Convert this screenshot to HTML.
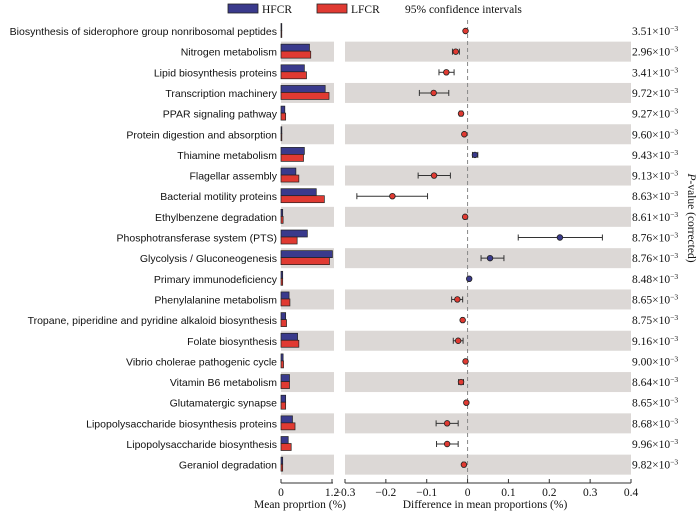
<!DOCTYPE html>
<html><head><meta charset="utf-8"><style>
html,body{margin:0;padding:0;background:#fff;}
svg{display:block;}
.lab{font-family:"Liberation Sans",sans-serif;font-size:10.5px;fill:#111;}
.ser{font-family:"Liberation Serif",serif;font-size:11.5px;fill:#111;}
</style></head><body>
<svg id="chart" width="700" height="515" viewBox="0 0 700 515" xmlns="http://www.w3.org/2000/svg">
<g>
<rect x="228" y="4" width="30" height="9" fill="#3a3a8c" stroke="#222" stroke-width="0.8"/>
<text class="ser" x="262" y="13">HFCR</text>
<rect x="317" y="4" width="30" height="9" fill="#e03a32" stroke="#222" stroke-width="0.8"/>
<text class="ser" x="351" y="13">LFCR</text>
<text class="ser" x="405" y="13">95% confidence intervals</text>
</g>
<g id="plot"></g>
</svg>
<script>
const categories=["Biosynthesis of siderophore group nonribosomal peptides","Nitrogen metabolism","Lipid biosynthesis proteins","Transcription machinery","PPAR signaling pathway","Protein digestion and absorption","Thiamine metabolism","Flagellar assembly","Bacterial motility proteins","Ethylbenzene degradation","Phosphotransferase system (PTS)","Glycolysis / Gluconeogenesis","Primary immunodeficiency","Phenylalanine metabolism","Tropane, piperidine and pyridine alkaloid biosynthesis","Folate biosynthesis","Vibrio cholerae pathogenic cycle","Vitamin B6 metabolism","Glutamatergic synapse","Lipopolysaccharide biosynthesis proteins","Lipopolysaccharide biosynthesis","Geraniol degradation"];
const hfcr=[0.01,0.67,0.55,1.04,0.09,0.02,0.55,0.35,0.83,0.04,0.62,1.21,0.04,0.19,0.11,0.39,0.05,0.20,0.11,0.27,0.17,0.04];
const lfcr=[0.01,0.70,0.60,1.13,0.11,0.02,0.53,0.42,1.02,0.05,0.38,1.14,0.04,0.21,0.13,0.42,0.06,0.20,0.11,0.33,0.24,0.04];
const diff=[-0.005,-0.029,-0.052,-0.083,-0.016,-0.008,0.018,-0.082,-0.184,-0.006,0.226,0.055,0.004,-0.025,-0.012,-0.023,-0.005,-0.016,-0.003,-0.050,-0.050,-0.009];
const ciLow=[-0.007,-0.037,-0.070,-0.118,-0.020,-0.010,0.012,-0.121,-0.271,-0.008,0.124,0.033,0.002,-0.039,-0.015,-0.035,-0.007,-0.022,-0.005,-0.077,-0.076,-0.012];
const ciHigh=[-0.003,-0.020,-0.033,-0.046,-0.012,-0.006,0.025,-0.042,-0.098,-0.004,0.330,0.089,0.006,-0.012,-0.009,-0.011,-0.003,-0.010,-0.001,-0.023,-0.023,-0.006];
const pvals=["3.51","2.96","3.41","9.72","9.27","9.60","9.43","9.13","8.63","8.61","8.76","8.76","8.48","8.65","8.75","9.16","9.00","8.64","8.65","8.68","9.96","9.82"];
const leftTicks=[0,1.2];
const rightTicks=[-0.3,-0.2,-0.1,0,0.1,0.2,0.3,0.4];

const NS="http://www.w3.org/2000/svg";
const g=document.getElementById('plot');
function mk(t,a,p){const e=document.createElementNS(NS,t);for(const k in a)e.setAttribute(k,a[k]);(p||g).appendChild(e);return e;}
const xL=v=>281+v*(332-281)/1.2;
const xR=v=>345+(v+0.3)*(631-345)/0.7;
const yRow=i=>31+i*20.65;
const axisY=483;

categories.forEach((c,i)=>{
  const y=yRow(i);
  if(i%2===1){
    let b=mk('rect',{x:281,y:y-10,width:53,height:20,fill:'#dcd8d6'});
    
    
    b=mk('rect',{x:345,y:y-10,width:286,height:20,fill:'#dcd8d6'});
    
    
  }
  let t=mk('text',{x:277,y:y+4,'text-anchor':'end',class:'lab'});t.textContent=c;
  
  
  let r=mk('rect',{x:xL(0),y:y-7.5,width:Math.max(0.8,xL(hfcr[i])-xL(0)),height:7,fill:'#3a3a8c',stroke:'#222','stroke-width':0.7});
  
  
  r=mk('rect',{x:xL(0),y:y-0.5,width:Math.max(0.8,xL(lfcr[i])-xL(0)),height:7,fill:'#e03a32',stroke:'#222','stroke-width':0.7});
  
  
  let p=mk('text',{x:632,y:y+4,class:'ser','font-size':'12px'});
  p.innerHTML=pvals[i]+'×10<tspan dy="-4" font-size="7.5">−3</tspan>';
  
  
});
// zero line
let z=mk('line',{x1:xR(0),x2:xR(0),y1:20,y2:axisY,stroke:'#888','stroke-dasharray':'4,3','stroke-width':1});


categories.forEach((c,i)=>{
  const y=yRow(i);
  let l=mk('line',{x1:xR(ciLow[i]),x2:xR(ciHigh[i]),y1:y,y2:y,stroke:'#333','stroke-width':1});
  
  
  [ciLow[i],ciHigh[i]].forEach(v=>{let k=mk('line',{x1:xR(v),x2:xR(v),y1:y-3,y2:y+3,stroke:'#333','stroke-width':1});
    
    });
  let d=mk('circle',{cx:xR(diff[i]),cy:y,r:2.8,fill:diff[i]>0?'#3a3a8c':'#e03a32',stroke:'#222','stroke-width':0.8});
  
  
});
// axes
let a=mk('line',{x1:281,x2:333,y1:axisY,y2:axisY,stroke:'#333'});


leftTicks.forEach(v=>{let k=mk('line',{x1:xL(v),x2:xL(v),y1:axisY-4,y2:axisY,stroke:'#333'});
  
  
  let t=mk('text',{x:xL(v),y:axisY+13,'text-anchor':'middle',class:'ser'});t.textContent=String(v);
  
  });
a=mk('line',{x1:345,x2:631,y1:axisY,y2:axisY,stroke:'#333'});


rightTicks.forEach(v=>{let k=mk('line',{x1:xR(v),x2:xR(v),y1:axisY-4,y2:axisY,stroke:'#333'});
  
  
  let t=mk('text',{x:xR(v),y:axisY+13,'text-anchor':'middle',class:'ser'});t.textContent=(v<0?'−':'')+Math.abs(v);
  
  });
let t=mk('text',{x:300,y:508,'text-anchor':'middle',class:'ser'});t.textContent='Mean proprtion (%)';


t=mk('text',{x:485,y:508,'text-anchor':'middle',class:'ser'});t.textContent='Difference in mean proportions (%)';


t=mk('text',{x:0,y:0,'text-anchor':'middle',class:'ser',transform:'translate(688,218) rotate(90)'});
t.innerHTML='<tspan font-style="italic">P</tspan>-value (corrected)';


</script>
</body></html>
